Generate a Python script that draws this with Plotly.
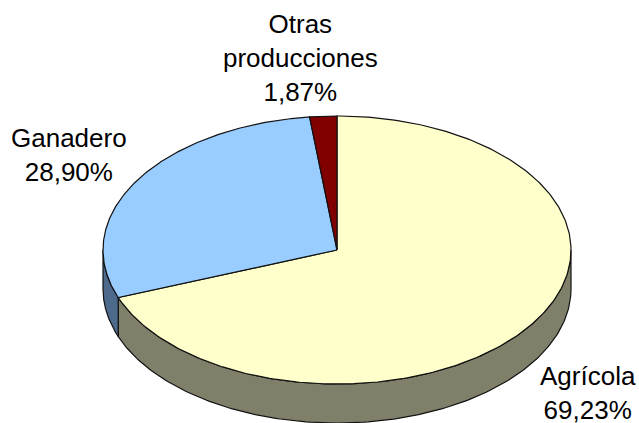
import numpy as np
import plotly.graph_objects as go

categories = ["Agrícola", "Ganadero", "Otras<br>producciones"]
values = [69.23, 28.90, 1.87]
top_colors = ["#FFFFCC", "#99CCFF", "#800000"]
side_colors = ["#80806A", "#4D6A8C", "#400000"]
label_x = [588, 69, 300]
label_y = [393, 155, 58]

CX, CY, RX, RY, DEPTH = 337, 250, 234, 134, 39
WIDTH, HEIGHT = 639, 423


def pt(theta):
    return CX + RX * np.sin(theta), CY - RY * np.cos(theta)


fig = go.Figure()
bounds = np.concatenate([[0], np.cumsum(values)]) / sum(values) * 2 * np.pi
line = dict(color="#111111", width=1.2)

# side walls: only the front half of the rim (90 to 270 degrees clockwise from top)
for i in range(len(values)):
    a, b = max(bounds[i], np.pi / 2), min(bounds[i + 1], 3 * np.pi / 2)
    if a >= b:
        continue
    t = np.linspace(a, b, 200)
    x, y = pt(t)
    fig.add_trace(go.Scatter(
        x=np.concatenate([x, x[::-1], x[:1]]),
        y=np.concatenate([y, y[::-1] + DEPTH, y[:1]]),
        mode="lines", fill="toself", fillcolor=side_colors[i], line=line,
        hoverinfo="skip", showlegend=False))

# top faces
for i in range(len(values)):
    t = np.linspace(bounds[i], bounds[i + 1], 300)
    x, y = pt(t)
    fig.add_trace(go.Scatter(
        x=np.concatenate([[CX], x, [CX]]),
        y=np.concatenate([[CY], y, [CY]]),
        mode="lines", fill="toself", fillcolor=top_colors[i], line=line,
        hoverinfo="skip", showlegend=False))

for c, v, lx, ly in zip(categories, values, label_x, label_y):
    fig.add_annotation(
        x=lx, y=ly, xref="x", yref="y", showarrow=False, align="center",
        text=f"{c}<br>{v:.2f}%".replace(".", ","),
        font=dict(family="Liberation Sans", size=26, color="black"))

fig.update_layout(
    width=WIDTH, height=HEIGHT, margin=dict(l=0, r=0, t=0, b=0),
    paper_bgcolor="white", plot_bgcolor="white", showlegend=False,
    xaxis=dict(range=[0, WIDTH], visible=False, fixedrange=True),
    yaxis=dict(range=[HEIGHT, 0], visible=False, fixedrange=True))
fig.write_html("out.html", config=dict(displayModeBar=False),
               post_script="document.body.style.margin='0';document.documentElement.style.overflow='hidden';")
